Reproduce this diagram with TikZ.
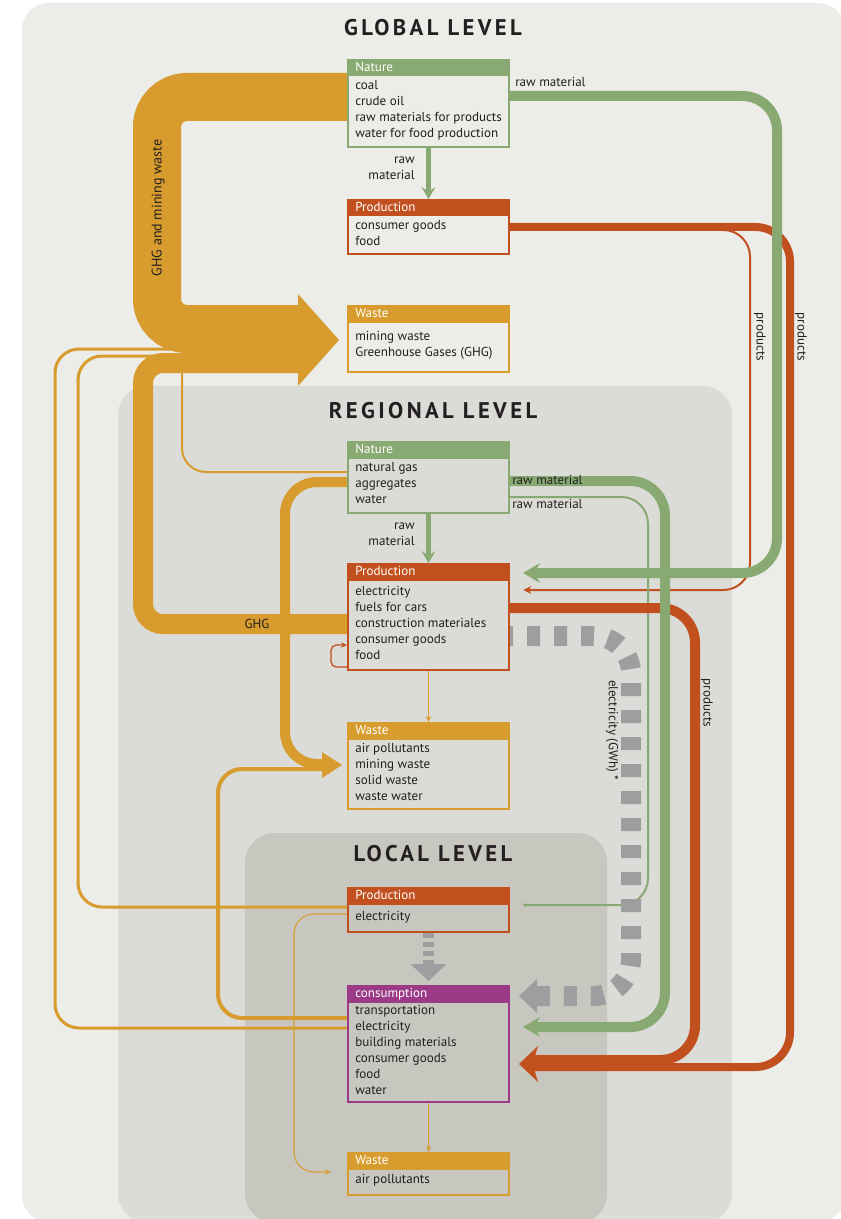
\documentclass[tikz,border=0pt]{standalone}
\usepackage{fontspec}
\setmainfont{PT Sans}
\newfontfamily\titlefont{PT Sans}[LetterSpace=15]
\usetikzlibrary{arrows.meta,calc}
\definecolor{bgout}{RGB}{236,236,232}
\definecolor{bgreg}{RGB}{219,219,215}
\definecolor{bgloc}{RGB}{199,199,192}
\definecolor{cgreen}{RGB}{136,169,113}
\definecolor{cprod}{RGB}{193,80,30}
\definecolor{cwaste}{RGB}{215,156,45}
\definecolor{cpurp}{RGB}{156,58,135}
\definecolor{cgray}{RGB}{158,158,160}
\definecolor{ctext}{RGB}{35,31,32}
\pgfdeclarelayer{bg}\pgfdeclarelayer{conn}\pgfsetlayers{bg,conn,main}
\tikzset{
 txt/.style={font=\fontsize{9.8}{12}\selectfont, text=ctext, inner sep=0pt},
 hdr/.style={font=\fontsize{9.8}{12}\selectfont, text=white, inner sep=0pt, anchor=mid west},
 title/.style={font=\titlefont\bfseries\fontsize{17}{19}\selectfont, text=ctext, inner sep=0pt},
 frame/.style={draw=#1, line width=1.5pt, inner sep=0pt, minimum width=120.75pt, anchor=north west},
 thinarrow/.style={-{Stealth[length=4.5pt,width=4pt]}},
}
% name, top, bottom, colour, header, first item centre, items
\newcommand\flowbox[7]{%
 \fill[#4] (347,#2) rectangle (508,{#2+17.5});
 \node[frame=#4, minimum height={(#3-#2)*0.75pt}] (#1) at (347,#2) {};
 \node[hdr] (#1-head) at (355,{#2+8.75}) {#5};
 \node[txt, anchor=north west, align=left] (#1-items) at (355,{#6-8}) {\strut #7};
}
\newcommand\headL[5]{\fill[#1] #2 -- ++(#3,{-#4}) -- ++(-3,{#4-#5}) -- ++(0,{2*#5}) -- ++(3,{#4-#5}) -- cycle;}
\newcommand\headD[5]{\fill[#1] #2 -- ++({-#4},{-#3}) -- ++({#4-#5},3) -- ++({2*#5},0) -- ++({#4-#5},-3) -- cycle;}
\begin{document}
\begin{tikzpicture}[x=0.75pt,y=-0.75pt]
\useasboundingbox (0,0) rectangle (841,1219);
\begin{pgfonlayer}{bg}
\fill[white] (0,0) rectangle (841,1219);
\fill[bgout, rounded corners=20pt] (22,3) rectangle (845,1222);
\fill[bgreg, rounded corners=22pt] (118,386) rectangle (732,1223);
\fill[bgloc, rounded corners=22pt] (245,833) rectangle (607,1223);
\end{pgfonlayer}

\node[title] (tG) at (433,28) {GLOBAL LEVEL};
\node[title] (tR) at (433,411) {REGIONAL LEVEL};
\node[title] (tL) at (433,854) {LOCAL LEVEL};

\flowbox{gN}{59}{146}{cgreen}{Nature}{86}{coal\\crude oil\\raw materials for products\\water for food production}
\flowbox{gP}{199}{253}{cprod}{Production}{226}{consumer goods\\food}
\flowbox{gW}{305}{371}{cwaste}{Waste}{337}{mining waste\\Greenhouse Gases (GHG)}
\flowbox{rN}{441}{512}{cgreen}{Nature}{468}{natural gas\\aggregates\\water}
\flowbox{rP}{563}{669}{cprod}{Production}{592}{electricity\\fuels for cars\\construction materiales\\consumer goods\\food}
\flowbox{rW}{722}{808}{cwaste}{Waste}{749}{air pollutants\\mining waste\\solid waste\\waste water}
\flowbox{lP}{887}{931}{cprod}{Production}{917}{electricity}
\flowbox{lC}{985}{1101}{cpurp}{consumption}{1011}{transportation\\electricity\\building materials\\consumer goods\\food\\water}
\flowbox{lW}{1152}{1194}{cwaste}{Waste}{1180}{air pollutants}

\begin{pgfonlayer}{conn}
% named free ends
\coordinate (sA) at (200,349);
\coordinate (sB) at (200,356);
\coordinate (sC) at (182,362);
\coordinate (gWbase) at (299,329);
\coordinate (gWbase2) at (299,363);
\coordinate (gWtip) at (339,340);
\coordinate (rWbase) at (323,764);
\coordinate (rWbase2) at (323,769);
\coordinate (rWtip) at (342,765);
\coordinate (cProdBase) at (535,1060);
\coordinate (cProdBase2) at (535,1067);
\coordinate (cProdTip) at (519,1064);
\coordinate (gGreenBase) at (536,573);
\coordinate (gGreenTip) at (523,573);
\coordinate (rGreenBase) at (536,1027);
\coordinate (rGreenTip) at (523,1027);
\coordinate (grayBase) at (537,996);
\coordinate (grayTip) at (519,996);
\coordinate (thinGreenEnd) at (525,905);

% thin orange lines into the global waste arrow
\draw[cwaste, line width=2.25pt, rounded corners=18pt] (lC.west |- 0,1028) -- (55,1028) -- (55,349) -- (sA);
\draw[cwaste, line width=2.25pt, rounded corners=18pt] (lP.west |- 0,907) -- (78,907) -- (78,356) -- (sB);
\draw[cwaste, line width=1.5pt, rounded corners=18pt] (rN.west |- 0,472) -- (182,472) -- (sC);
% consumption -> regional waste
\draw[cwaste, line width=3pt, rounded corners=18pt] (lC.west |- 0,1018) -- (218,1018) -- (218,769) -- (rWbase2);
% local production -> local waste
\draw[cwaste, line width=0.8pt, rounded corners=15pt, thinarrow, shorten >=12pt] (lP.west |- 0,914) -- (294,914) -- (294,1172) -- (lW.west |- 0,1172);
% vertical thin arrows
\draw[cwaste, line width=0.75pt, thinarrow] (rP.south) -- (rW.north);
\draw[cwaste, line width=0.75pt, thinarrow] (lC.south) -- (lW.north);
% self loop
\draw[cprod, line width=1pt, rounded corners=4pt, thinarrow] (rP.west |- 0,667) -- (331,667) -- (331,645) -- (rP.west |- 0,645);
% thin products global -> regional production
\draw[cprod, line width=1.5pt, rounded corners=20pt, -{Stealth[length=6pt,width=6pt]}, shorten >=10pt] (gP.east |- 0,230) -- (750,230) -- (750,590) -- (rP.east |- 0,590);
% thin green regional nature -> local production
\draw[cgreen, line width=1.5pt, rounded corners=20pt] (rN.east |- 0,497) -- (648,497) -- (648,905) -- (thinGreenEnd);
\fill[cgreen] (thinGreenEnd) circle (1.4pt);

% GHG and mining waste band
\draw[cwaste, line width=36pt, rounded corners=22.5pt] (gN.west |- 0,97) -- (157,97) -- (157,329) -- (gWbase);
% GHG regional band
\draw[cwaste, line width=15pt, rounded corners=15pt] (rP.west |- 0,624) -- (143,624) -- (143,363) -- (gWbase2);
\fill[cwaste] (gWtip) -- (298,294) -- (298,386) -- cycle;
% regional nature -> regional waste
\draw[cwaste, line width=7.5pt, rounded corners=24pt] (rN.west |- 0,482) -- (285,482) -- (285,764) -- (rWbase);
\fill[cwaste] (rWtip) -- (322,752) -- (322,778) -- cycle;

% products bands
\draw[cprod, line width=6pt, rounded corners=26pt] (gP.east |- 0,227) -- (790,227) -- (790,1067) -- (cProdBase2);
\draw[cprod, line width=7.5pt, rounded corners=26pt] (rP.east |- 0,608) -- (695,608) -- (695,1060) -- (cProdBase);
\headL{cprod}{(cProdTip)}{19}{18}{8}

% green raw material bands
\draw[cgreen, line width=7.5pt, rounded corners=26pt] (gN.east |- 0,96) -- (777,96) -- (777,573) -- (gGreenBase);
\headL{cgreen}{(gGreenTip)}{17}{10}{5}
\draw[cgreen, line width=7.5pt, rounded corners=26pt] (rN.east |- 0,481) -- (665,481) -- (665,1027) -- (rGreenBase);
\headL{cgreen}{(rGreenTip)}{17}{10}{5}
% raw material vertical arrows
\draw[cgreen, line width=3.75pt] (gN.south) -- ($(gP.north)+(0,-9)$);
\headD{cgreen}{(gP.north)}{12}{7}{2.5}
\draw[cgreen, line width=3.75pt] (rN.south) -- ($(rP.north)+(0,-9)$);
\headD{cgreen}{(rP.north)}{12}{7}{2.5}

% electricity dashed
\draw[cgray, line width=15pt, dash pattern=on 9.75pt off 10.5pt, dash phase=7.5pt, rounded corners=28pt] (rP.east |- 0,636) -- (631,636) -- (631,996) -- (grayBase);
\fill[cgray] (grayTip) -- ++(18,-17) -- ++(0,34) -- cycle;
\draw[cgray, line width=8.25pt, dash pattern=on 3.75pt off 3pt] (lP.south) -- ($(lC.north)+(0,-21)$);
\fill[cgray] ($(lC.north)+(0,-4)$) -- ++(-18,-17) -- ++(36,0) -- cycle;
\end{pgfonlayer}

% labels
\node[txt, anchor=mid west] (lb1) at (515,83) {raw material};
\node[txt, anchor=north east, align=right] (lb2) at (415,152) {\strut raw\\material};
\node[txt, anchor=mid west] (lb3) at (512,481) {raw material};
\node[txt, anchor=mid west] (lb4) at (512,505) {raw material};
\node[txt, anchor=north east, align=right] (lb5) at (415,518) {\strut raw\\material};
\node[txt, rotate=-90] (lb6) at (760,337) {products};
\node[txt, rotate=-90] (lb7) at (801,337) {products};
\node[txt, rotate=-90] (lb8) at (707,703) {products};
\node[txt, rotate=-90] (lb9) at (612,730) {electricity (GWh) *};
\node[txt, rotate=90, font=\fontsize{10.5}{12}\selectfont] (lb10) at (158,208) {GHG and mining waste};
\node[txt] (lb11) at (257,624) {GHG};
\end{tikzpicture}
\end{document}
